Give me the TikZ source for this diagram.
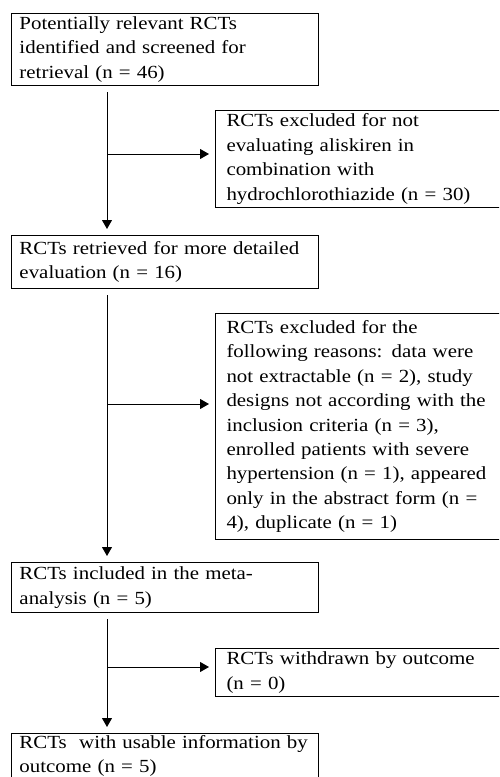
\documentclass[tikz,border=0pt]{standalone}
\usepackage{fontspec}
\setmainfont{Liberation Serif}[FakeStretch=1.13]
\usetikzlibrary{positioning,arrows.meta}
\tikzset{
	>={Triangle[length=9pt,width=10pt]}
}
\begin{document}
\begin{tikzpicture}[
x = 1pt, y = -1pt,
line width = 1pt,
every node/.style = {
	font = \fontsize{18.5pt}{24.4pt}\selectfont
},
stage/.style = {
	draw,
	align = left,
	inner xsep = 8pt,
	inner ysep = 0pt,
	text width = 291pt,
	minimum width = 307pt
},
excluded/.style = {
	draw,
	align = left,
	inner xsep = 11pt,
	inner ysep = 0pt,
	text width = 290pt,
	minimum width = 312pt
},
link/.style = {
	->,
	shorten < = 6pt,
	shorten > = 6pt
}
]

\clip (0,0) rectangle (499,777);

\node (identified) [stage, minimum height = 72pt, anchor = north west] at (11,13) {Potentially relevant RCTs\\ identified and screened for\\ retrieval (n = 46)};
\node (excluded1) [excluded, minimum height = 97pt, below right = 24pt and 204pt of identified.south west] {RCTs excluded for not\\ evaluating aliskiren in\\ combination with\\ hydrochlorothiazide (n = 30)};

\node (retrieved) [stage, minimum height = 53pt, below = 149pt of identified.south west, anchor = north west] {RCTs retrieved for more detailed\\ evaluation (n = 16)};
\node (excluded2) [excluded, minimum height = 226pt, below right = 24pt and 204pt of retrieved.south west] {RCTs excluded for the\\ following reasons: data were\\ not extractable (n = 2), study\\ designs not according with the\\ inclusion criteria (n = 3),\\ enrolled patients with severe\\ hypertension (n = 1), appeared\\ only in the abstract form (n =\\ 4), duplicate (n = 1)};

\node (included) [stage, minimum height = 50pt, below = 273pt of retrieved.south west, anchor = north west] {RCTs included in the meta-\\ analysis (n = 5)};
\node (excluded3) [excluded, minimum height = 48pt, below right = 35pt and 204pt of included.south west] {RCTs withdrawn by outcome\\ (n = 0)};

\node (usable) [stage, minimum height = 45pt, below = 120pt of included.south west, anchor = north west] {RCTs\ \ with usable information by\\ outcome (n = 5)};

\coordinate (split1) at (107,154);
\coordinate (split2) at (107,404);
\coordinate (split3) at (107,667);

\draw [link] (identified.south -| split1) -- (retrieved.north -| split1);
\draw [link, shorten < = 0pt] (split1) -- (split1 -| excluded1.west);
\draw [link] (retrieved.south -| split2) -- (included.north -| split2);
\draw [link, shorten < = 0pt] (split2) -- (split2 -| excluded2.west);
\draw [link] (included.south -| split3) -- (usable.north -| split3);
\draw [link, shorten < = 0pt] (split3) -- (split3 -| excluded3.west);

\end{tikzpicture}
\end{document}
